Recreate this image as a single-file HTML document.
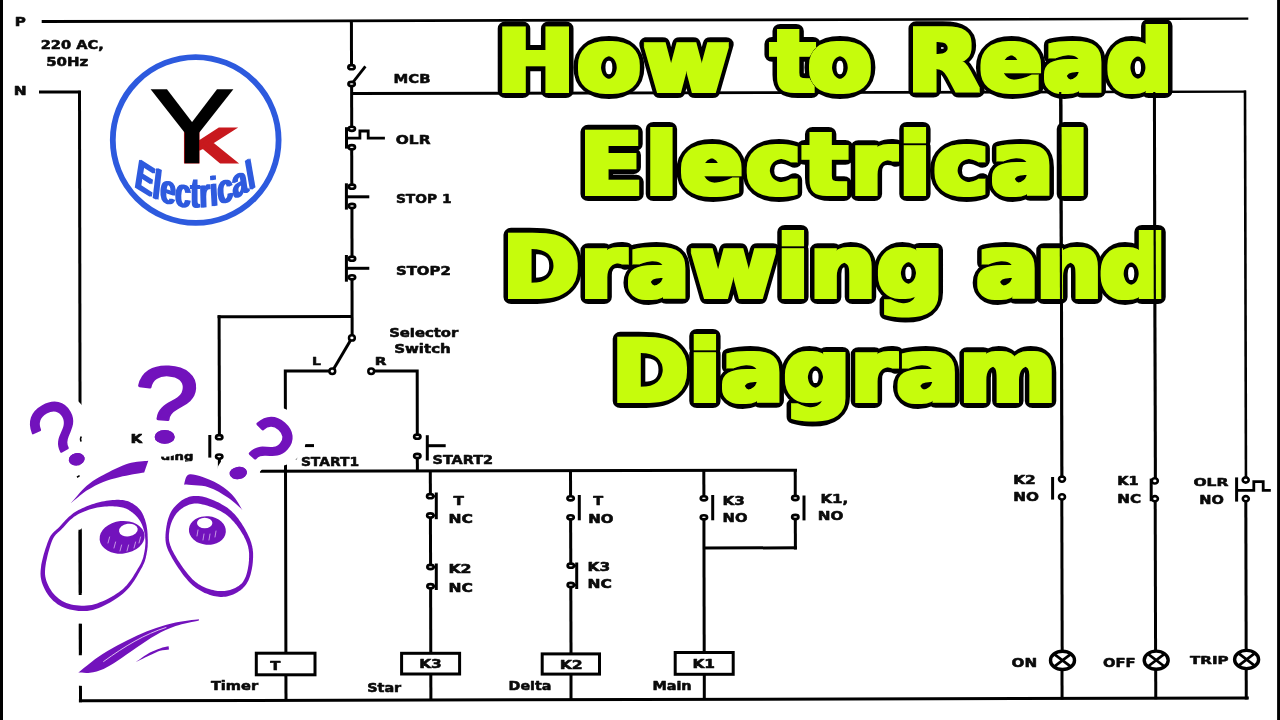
<!DOCTYPE html>
<html lang="en">
<head>
<meta charset="utf-8">
<title>How to Read Electrical Drawing and Diagram</title>
<style>
html,body{margin:0;padding:0;background:#fff;}
body{width:1280px;height:720px;overflow:hidden;}
svg{display:block;}
text{font-family:"DejaVu Sans","Liberation Sans",sans-serif;font-weight:bold;}
.labels{opacity:0.999;}
.lb{fill:#0a0a0a;stroke:#0a0a0a;stroke-width:0.55px;stroke-linejoin:round;}
.qm text{font-family:"Liberation Sans",sans-serif;font-weight:normal;font-size:100px;}
.title{font-size:86px;stroke-linejoin:round;}
.title text{fill:#c6fc0c;stroke:#000;stroke-width:14px;paint-order:stroke fill;}
</style>
</head>
<body>
<svg width="1280" height="720" viewBox="0 0 1280 720">
<rect x="0" y="0" width="1280" height="720" fill="#fff"/>
<rect x="0" y="0" width="3" height="720" fill="#000"/>
<rect x="1277.1" y="0" width="2.9" height="720" fill="#000"/>
<g stroke="#000" fill="none">
<path d="M41.7 20.1L1248.3 17.55V19.85L41.7 23.1Z" fill="#000" stroke="none"/>
<line x1="39" y1="92" x2="80.7" y2="92" stroke-width="3.0" stroke-linecap="butt"/>
<line x1="79.5" y1="90.8" x2="80.5" y2="702.2" stroke-width="3.0" stroke-linecap="butt"/>
<line x1="78.9" y1="700.8" x2="1248.8" y2="698" stroke-width="3.0" stroke-linecap="butt"/>
<line x1="351.4" y1="20" x2="351.51" y2="67.2" stroke-width="3.0" stroke-linecap="butt"/>
<line x1="351.7" y1="83.8" x2="365.4" y2="66.3" stroke-width="2.8" stroke-linecap="butt"/>
<line x1="351.6" y1="84" x2="351.71" y2="128.8" stroke-width="3.0" stroke-linecap="butt"/>
<path d="M351.6 92.1L1246 90.4V92.8L351.6 95.1Z" fill="#000" stroke="none"/>
<line x1="351.7" y1="147.2" x2="351.8" y2="186.7" stroke-width="3.0" stroke-linecap="butt"/>
<line x1="351.9" y1="206" x2="352.03" y2="258.7" stroke-width="3.0" stroke-linecap="butt"/>
<line x1="352.0" y1="277.3" x2="352.15" y2="337.7" stroke-width="3.0" stroke-linecap="butt"/>
<line x1="346.5" y1="127.2" x2="346.5" y2="148.6" stroke-width="3.0" stroke-linecap="butt"/>
<polyline points="346.5,138.2 359.9,138.2 359.9,131 368.2,131 368.2,138.2 384.9,138.2" stroke-width="2.8" fill="none" stroke-linejoin="miter"/>
<line x1="346.4" y1="183.3" x2="346.4" y2="209.6" stroke-width="3.0" stroke-linecap="butt"/>
<line x1="346.4" y1="196.8" x2="369.3" y2="196.8" stroke-width="3.0" stroke-linecap="butt"/>
<line x1="346.4" y1="255" x2="346.4" y2="281.7" stroke-width="3.0" stroke-linecap="butt"/>
<line x1="346.4" y1="268.3" x2="369.3" y2="268.3" stroke-width="3.0" stroke-linecap="butt"/>
<line x1="217.6" y1="316.8" x2="352" y2="316.4" stroke-width="3.0" stroke-linecap="butt"/>
<line x1="219.1" y1="315.2" x2="219.4" y2="437.2" stroke-width="3.0" stroke-linecap="butt"/>
<line x1="219.35" y1="456.6" x2="219.38" y2="471" stroke-width="3.0" stroke-linecap="butt"/>
<line x1="209.8" y1="435" x2="209.8" y2="457.6" stroke-width="3.0" stroke-linecap="butt"/>
<line x1="351.9" y1="337.9" x2="332.3" y2="371.2" stroke-width="3.0" stroke-linecap="butt"/>
<polyline points="332.3,371 285.3,371 285.9,652.3" stroke-width="3.0" fill="none" stroke-linejoin="miter"/>
<polyline points="371,371 417.2,371 417.3,436.7" stroke-width="3.0" fill="none" stroke-linejoin="miter"/>
<line x1="417.3" y1="456" x2="417.4" y2="471" stroke-width="3.0" stroke-linecap="butt"/>
<line x1="296.9" y1="457.2" x2="295.6" y2="459.4" stroke-width="1.6" stroke-linecap="butt"/>
<line x1="304.7" y1="445.6" x2="314" y2="445.6" stroke-width="3.0" stroke-linecap="butt"/>
<line x1="427.3" y1="435.2" x2="427.3" y2="460.5" stroke-width="3.0" stroke-linecap="butt"/>
<line x1="427.3" y1="445.7" x2="445.7" y2="445.7" stroke-width="3.0" stroke-linecap="butt"/>
<line x1="255" y1="471.3" x2="797" y2="470.2" stroke-width="3.0" stroke-linecap="butt"/>
<line x1="285.9" y1="675" x2="286" y2="700" stroke-width="3.0" stroke-linecap="butt"/>
<line x1="430.3" y1="471" x2="430.4" y2="496.2" stroke-width="3.0" stroke-linecap="butt"/>
<line x1="430.4" y1="515.5" x2="430.6" y2="567" stroke-width="3.0" stroke-linecap="butt"/>
<line x1="430.6" y1="586.2" x2="430.8" y2="652.4" stroke-width="3.0" stroke-linecap="butt"/>
<line x1="430.8" y1="675" x2="430.9" y2="699.5" stroke-width="3.0" stroke-linecap="butt"/>
<line x1="436.3" y1="492.5" x2="436.3" y2="519.2" stroke-width="3.0" stroke-linecap="butt"/>
<line x1="436.3" y1="563.5" x2="436.3" y2="590" stroke-width="3.0" stroke-linecap="butt"/>
<line x1="430.4" y1="496.2" x2="436.3" y2="496.2" stroke-width="2" stroke-linecap="butt"/>
<line x1="430.4" y1="515.5" x2="436.3" y2="515.5" stroke-width="2" stroke-linecap="butt"/>
<line x1="430.5" y1="567" x2="436.3" y2="567" stroke-width="2" stroke-linecap="butt"/>
<line x1="430.5" y1="586.2" x2="436.3" y2="586.2" stroke-width="2" stroke-linecap="butt"/>
<line x1="570.5" y1="471" x2="570.6" y2="498.3" stroke-width="3.0" stroke-linecap="butt"/>
<line x1="570.6" y1="517.3" x2="570.8" y2="565.7" stroke-width="3.0" stroke-linecap="butt"/>
<line x1="570.8" y1="585" x2="571" y2="653" stroke-width="3.0" stroke-linecap="butt"/>
<line x1="571" y1="675" x2="571" y2="699.2" stroke-width="3.0" stroke-linecap="butt"/>
<line x1="579.3" y1="495" x2="579.3" y2="520.3" stroke-width="3.0" stroke-linecap="butt"/>
<line x1="576.7" y1="562.5" x2="576.7" y2="589" stroke-width="3.0" stroke-linecap="butt"/>
<line x1="570.8" y1="565.7" x2="576.7" y2="565.7" stroke-width="2" stroke-linecap="butt"/>
<line x1="570.8" y1="585" x2="576.7" y2="585" stroke-width="2" stroke-linecap="butt"/>
<line x1="703.8" y1="470.7" x2="703.9" y2="498.3" stroke-width="3.0" stroke-linecap="butt"/>
<line x1="703.9" y1="517.3" x2="704.2" y2="652" stroke-width="3.0" stroke-linecap="butt"/>
<line x1="704.3" y1="675" x2="704.3" y2="699.6" stroke-width="3.0" stroke-linecap="butt"/>
<line x1="712.7" y1="495" x2="712.7" y2="520.3" stroke-width="3.0" stroke-linecap="butt"/>
<line x1="795.2" y1="469" x2="795.3" y2="498" stroke-width="3.0" stroke-linecap="butt"/>
<line x1="795.3" y1="517" x2="795.4" y2="549.5" stroke-width="3.0" stroke-linecap="butt"/>
<line x1="704" y1="548" x2="797" y2="547.8" stroke-width="3.0" stroke-linecap="butt"/>
<line x1="804" y1="495.5" x2="804" y2="520.4" stroke-width="3.0" stroke-linecap="butt"/>
<line x1="1061.0" y1="91.5" x2="1061.94" y2="479.1" stroke-width="3.0" stroke-linecap="butt"/>
<line x1="1061.8" y1="496.9" x2="1062.18" y2="651" stroke-width="3.0" stroke-linecap="butt"/>
<line x1="1061.99" y1="669" x2="1062.07" y2="699.5" stroke-width="3.0" stroke-linecap="butt"/>
<line x1="1154.4" y1="91.5" x2="1155.35" y2="480.9" stroke-width="3.0" stroke-linecap="butt"/>
<line x1="1155.2" y1="498.7" x2="1155.57" y2="651" stroke-width="3.0" stroke-linecap="butt"/>
<line x1="1155.69" y1="669" x2="1155.77" y2="699.3" stroke-width="3.0" stroke-linecap="butt"/>
<line x1="1245.0" y1="90.4" x2="1245.95" y2="480" stroke-width="2.6" stroke-linecap="butt"/>
<line x1="1245.8" y1="498.7" x2="1246.17" y2="650" stroke-width="3.0" stroke-linecap="butt"/>
<line x1="1246.19" y1="668" x2="1246.27" y2="699.4" stroke-width="3.0" stroke-linecap="butt"/>
<line x1="1052.6" y1="477" x2="1052.6" y2="499.6" stroke-width="3.0" stroke-linecap="butt"/>
<line x1="1151.2" y1="478.6" x2="1151.2" y2="501.2" stroke-width="3.0" stroke-linecap="butt"/>
<line x1="1151.2" y1="480.9" x2="1154.6" y2="480.9" stroke-width="2" stroke-linecap="butt"/>
<line x1="1151.2" y1="498.7" x2="1154.6" y2="498.7" stroke-width="2" stroke-linecap="butt"/>
<line x1="1236.6" y1="477.4" x2="1236.6" y2="501.6" stroke-width="3.0" stroke-linecap="butt"/>
<polyline points="1236.6,490.4 1253.8,490.4 1253.8,481.6 1263.2,481.6 1263.2,490.4 1270.8,490.4" stroke-width="2.8" fill="none" stroke-linejoin="miter"/>
<rect x="256.3" y="653.1999999999999" width="58.7" height="21.6" stroke-width="3.0" fill="#fff"/>
<rect x="401.6" y="653.3" width="58.0" height="20.7" stroke-width="3.0" fill="#fff"/>
<rect x="542.2" y="653.9" width="57.3" height="20.2" stroke-width="3.0" fill="#fff"/>
<rect x="675.2" y="652.5" width="58.0" height="21.8" stroke-width="3.0" fill="#fff"/>
<ellipse cx="1062.5" cy="660.4" rx="12" ry="9.1" stroke-width="3.4" fill="#fff"/>
<line x1="1054.2" y1="654.1" x2="1070.8" y2="666.6999999999999" stroke-width="2.7" stroke-linecap="butt"/>
<line x1="1054.2" y1="666.6999999999999" x2="1070.8" y2="654.1" stroke-width="2.7" stroke-linecap="butt"/>
<ellipse cx="1156.2" cy="660.2" rx="12" ry="9.1" stroke-width="3.4" fill="#fff"/>
<line x1="1147.9" y1="653.9000000000001" x2="1164.5" y2="666.5" stroke-width="2.7" stroke-linecap="butt"/>
<line x1="1147.9" y1="666.5" x2="1164.5" y2="653.9000000000001" stroke-width="2.7" stroke-linecap="butt"/>
<ellipse cx="1246.6" cy="659.5" rx="12" ry="9.1" stroke-width="3.4" fill="#fff"/>
<line x1="1238.3" y1="653.2" x2="1254.8999999999999" y2="665.8" stroke-width="2.7" stroke-linecap="butt"/>
<line x1="1238.3" y1="665.8" x2="1254.8999999999999" y2="653.2" stroke-width="2.7" stroke-linecap="butt"/>
<ellipse cx="351.5" cy="67.2" rx="3.2" ry="2.1" stroke-width="2.6" fill="#fff"/>
<ellipse cx="351.6" cy="84" rx="3.2" ry="2.1" stroke-width="2.6" fill="#fff"/>
<ellipse cx="351.8" cy="128.8" rx="3.2" ry="2.1" stroke-width="2.6" fill="#fff"/>
<ellipse cx="351.8" cy="147.2" rx="3.2" ry="2.1" stroke-width="2.6" fill="#fff"/>
<ellipse cx="352" cy="186.7" rx="3.2" ry="2.1" stroke-width="2.6" fill="#fff"/>
<ellipse cx="352" cy="206" rx="3.2" ry="2.1" stroke-width="2.6" fill="#fff"/>
<ellipse cx="352" cy="258.7" rx="3.2" ry="2.1" stroke-width="2.6" fill="#fff"/>
<ellipse cx="352" cy="277.3" rx="3.2" ry="2.1" stroke-width="2.6" fill="#fff"/>
<ellipse cx="219.2" cy="437.2" rx="3.2" ry="2.1" stroke-width="2.6" fill="#fff"/>
<ellipse cx="219.2" cy="456.6" rx="3.2" ry="2.1" stroke-width="2.6" fill="#fff"/>
<ellipse cx="417.3" cy="436.7" rx="3.2" ry="2.1" stroke-width="2.6" fill="#fff"/>
<ellipse cx="417.3" cy="456" rx="3.2" ry="2.1" stroke-width="2.6" fill="#fff"/>
<ellipse cx="430.2" cy="496.2" rx="3.2" ry="2.1" stroke-width="2.6" fill="#fff"/>
<ellipse cx="430.3" cy="515.5" rx="3.2" ry="2.1" stroke-width="2.6" fill="#fff"/>
<ellipse cx="430.5" cy="567" rx="3.2" ry="2.1" stroke-width="2.6" fill="#fff"/>
<ellipse cx="430.5" cy="586.2" rx="3.2" ry="2.1" stroke-width="2.6" fill="#fff"/>
<ellipse cx="570.6" cy="498.3" rx="3.2" ry="2.1" stroke-width="2.6" fill="#fff"/>
<ellipse cx="570.6" cy="517.3" rx="3.2" ry="2.1" stroke-width="2.6" fill="#fff"/>
<ellipse cx="570.8" cy="565.7" rx="3.2" ry="2.1" stroke-width="2.6" fill="#fff"/>
<ellipse cx="570.8" cy="585" rx="3.2" ry="2.1" stroke-width="2.6" fill="#fff"/>
<ellipse cx="703.9" cy="498.3" rx="3.2" ry="2.1" stroke-width="2.6" fill="#fff"/>
<ellipse cx="703.9" cy="517.3" rx="3.2" ry="2.1" stroke-width="2.6" fill="#fff"/>
<ellipse cx="795.3" cy="498" rx="3.2" ry="2.1" stroke-width="2.6" fill="#fff"/>
<ellipse cx="795.3" cy="517" rx="3.2" ry="2.1" stroke-width="2.6" fill="#fff"/>
<ellipse cx="351.9" cy="337.9" rx="2.9" ry="2.7" stroke-width="2.5" fill="#fff"/>
<ellipse cx="332.3" cy="371.2" rx="2.9" ry="2.7" stroke-width="2.5" fill="#fff"/>
<ellipse cx="371.2" cy="371.2" rx="2.9" ry="2.7" stroke-width="2.5" fill="#fff"/>
<ellipse cx="1062" cy="479.1" rx="3.0" ry="2.6" stroke-width="2.6" fill="#fff"/>
<ellipse cx="1062" cy="496.9" rx="3.0" ry="2.6" stroke-width="2.6" fill="#fff"/>
<ellipse cx="1154.8" cy="480.9" rx="3.0" ry="2.6" stroke-width="2.6" fill="#fff"/>
<ellipse cx="1154.9" cy="498.7" rx="3.0" ry="2.6" stroke-width="2.6" fill="#fff"/>
<ellipse cx="1245.7" cy="480" rx="3.0" ry="2.6" stroke-width="2.6" fill="#fff"/>
<ellipse cx="1245.8" cy="498.7" rx="3.0" ry="2.6" stroke-width="2.6" fill="#fff"/>
</g>
<g class="labels">
<text class="lb" x="14.7" y="25.8" font-size="11.39" textLength="11.1" lengthAdjust="spacingAndGlyphs">P</text>
<text class="lb" x="13.7" y="94.5" font-size="11.39" textLength="12.9" lengthAdjust="spacingAndGlyphs">N</text>
<text class="lb" x="40.7" y="48.8" font-size="12.07" textLength="63.1" lengthAdjust="spacingAndGlyphs">220 AC,</text>
<text class="lb" x="46.2" y="66.2" font-size="11.93" textLength="42.1" lengthAdjust="spacingAndGlyphs">50Hz</text>
<text class="lb" x="393.6" y="82.5" font-size="13.03" textLength="36.9" lengthAdjust="spacingAndGlyphs">MCB</text>
<text class="lb" x="395.8" y="143.5" font-size="11.66" textLength="34.7" lengthAdjust="spacingAndGlyphs">OLR</text>
<text class="lb" x="395.9" y="202.7" font-size="12.89" textLength="55.6" lengthAdjust="spacingAndGlyphs">STOP 1</text>
<text class="lb" x="395.9" y="275.3" font-size="11.8" textLength="54.9" lengthAdjust="spacingAndGlyphs">STOP2</text>
<text class="lb" x="389.2" y="336.5" font-size="11.66" textLength="69.1" lengthAdjust="spacingAndGlyphs">Selector</text>
<text class="lb" x="394.2" y="353" font-size="11.93" textLength="56.6" lengthAdjust="spacingAndGlyphs">Switch</text>
<text class="lb" x="311.9" y="365.2" font-size="11.25" textLength="8.9" lengthAdjust="spacingAndGlyphs">L</text>
<text class="lb" x="374.7" y="365.3" font-size="11.25" textLength="11.7" lengthAdjust="spacingAndGlyphs">R</text>
<text class="lb" x="130.5" y="443" font-size="11.8" textLength="12.2" lengthAdjust="spacingAndGlyphs">K</text>
<text class="lb" x="136.2" y="460" font-size="10.29" textLength="57.2" lengthAdjust="spacingAndGlyphs">Holding</text>
<text class="lb" x="300.9" y="465.7" font-size="12.35" textLength="58.2" lengthAdjust="spacingAndGlyphs">START1</text>
<text class="lb" x="432.5" y="464.3" font-size="12.21" textLength="60.6" lengthAdjust="spacingAndGlyphs">START2</text>
<text class="lb" x="453.4" y="505.3" font-size="11.8" textLength="10.4" lengthAdjust="spacingAndGlyphs">T</text>
<text class="lb" x="448.4" y="523" font-size="11.66" textLength="24.4" lengthAdjust="spacingAndGlyphs">NC</text>
<text class="lb" x="448.4" y="573.3" font-size="11.39" textLength="23.2" lengthAdjust="spacingAndGlyphs">K2</text>
<text class="lb" x="448.4" y="591.5" font-size="12.07" textLength="24.4" lengthAdjust="spacingAndGlyphs">NC</text>
<text class="lb" x="593.2" y="505" font-size="11.39" textLength="9.9" lengthAdjust="spacingAndGlyphs">T</text>
<text class="lb" x="588.2" y="522.7" font-size="11.93" textLength="25.3" lengthAdjust="spacingAndGlyphs">NO</text>
<text class="lb" x="587.5" y="571" font-size="11.93" textLength="22.6" lengthAdjust="spacingAndGlyphs">K3</text>
<text class="lb" x="587.5" y="588.3" font-size="11.39" textLength="24.3" lengthAdjust="spacingAndGlyphs">NC</text>
<text class="lb" x="722.5" y="505" font-size="12.35" textLength="22.3" lengthAdjust="spacingAndGlyphs">K3</text>
<text class="lb" x="722.5" y="522.3" font-size="12.07" textLength="25.0" lengthAdjust="spacingAndGlyphs">NO</text>
<text class="lb" x="820.4" y="503" font-size="11.52" textLength="27.8" lengthAdjust="spacingAndGlyphs">K1,</text>
<text class="lb" x="817.7" y="520.3" font-size="12.07" textLength="25.6" lengthAdjust="spacingAndGlyphs">NO</text>
<text class="lb" x="1013.2" y="484.4" font-size="11.8" textLength="22.6" lengthAdjust="spacingAndGlyphs">K2</text>
<text class="lb" x="1013.2" y="501.3" font-size="11.93" textLength="25.8" lengthAdjust="spacingAndGlyphs">NO</text>
<text class="lb" x="1117.2" y="485.3" font-size="11.93" textLength="21.4" lengthAdjust="spacingAndGlyphs">K1</text>
<text class="lb" x="1117.2" y="503" font-size="11.8" textLength="23.9" lengthAdjust="spacingAndGlyphs">NC</text>
<text class="lb" x="1193.4" y="485.8" font-size="10.97" textLength="35.0" lengthAdjust="spacingAndGlyphs">OLR</text>
<text class="lb" x="1199.2" y="503.6" font-size="12.21" textLength="24.6" lengthAdjust="spacingAndGlyphs">NO</text>
<text class="lb" x="1011.6" y="666.7" font-size="12.21" textLength="25.6" lengthAdjust="spacingAndGlyphs">ON</text>
<text class="lb" x="1102.9" y="666.9" font-size="12.07" textLength="32.6" lengthAdjust="spacingAndGlyphs">OFF</text>
<text class="lb" x="1190.1" y="664.1" font-size="11.25" textLength="38.5" lengthAdjust="spacingAndGlyphs">TRIP</text>
<text class="lb" x="270.2" y="669.8" font-size="11.52" textLength="10.1" lengthAdjust="spacingAndGlyphs">T</text>
<text class="lb" x="419.2" y="668" font-size="12.35" textLength="22.6" lengthAdjust="spacingAndGlyphs">K3</text>
<text class="lb" x="559.7" y="669" font-size="12.35" textLength="23.1" lengthAdjust="spacingAndGlyphs">K2</text>
<text class="lb" x="692.4" y="667.8" font-size="12.07" textLength="22.6" lengthAdjust="spacingAndGlyphs">K1</text>
<text class="lb" x="210.9" y="690.1" font-size="11.93" textLength="47.2" lengthAdjust="spacingAndGlyphs">Timer</text>
<text class="lb" x="367.2" y="692" font-size="11.8" textLength="34.0" lengthAdjust="spacingAndGlyphs">Star</text>
<text class="lb" x="508.6" y="690" font-size="13.03" textLength="42.8" lengthAdjust="spacingAndGlyphs">Delta</text>
<text class="lb" x="652.4" y="690.1" font-size="11.66" textLength="39.2" lengthAdjust="spacingAndGlyphs">Main</text>
</g>
<g class="logo">
<circle cx="195.7" cy="140" r="82.9" fill="#fff" stroke="#2d5ade" stroke-width="5.8"/>
<text transform="translate(181.6 161.9) scale(1.555 1)" style="font-family:'Liberation Sans',sans-serif;font-weight:bold;font-size:47.34px" fill="#c8191e" stroke="#c8191e" stroke-width="3.2">K</text>
<text transform="translate(150.7 162.1) scale(1.182 1)" style="font-family:'Liberation Sans',sans-serif;font-weight:normal;font-size:104.6px" fill="#000" stroke="#000" stroke-width="2.6">Y</text>
<g transform="scale(0.5,1)">
<path id="earc" d="M268.0 185.8A347.43 347.43 0 0 0 512.4 185.8" fill="none"/>
<filter id="fat" x="-5%" y="-20%" width="110%" height="140%"><feMorphology operator="dilate" radius="2.0 0.4"/></filter>
<text style="font-family:'Liberation Sans',sans-serif;font-weight:bold;font-size:42px" fill="#2d5ade" filter="url(#fat)"><textPath href="#earc" textLength="249.7" lengthAdjust="spacingAndGlyphs">Electrical</textPath></text>
</g>
</g>

<g class="face">
<g fill="#fff" stroke="#fff" stroke-width="26" stroke-linejoin="round" stroke-linecap="round">
<path d="M70.8 503.3C73.5 500.4 81.3 490.5 86.7 485.8C92.1 481.1 96.4 478.7 103.3 475.0C110.2 471.3 120.8 466.0 128.3 463.6C135.8 461.2 145.0 461.3 148.3 460.8L144.2 472.5C140.2 473.2 126.8 475.3 120.0 476.9C113.2 478.5 108.8 479.6 103.3 481.9C97.8 484.2 92.1 487.0 86.7 490.6C81.3 494.2 73.5 501.2 70.8 503.3Z"/>
<path d="M184.0 484.6C185.0 482.9 184.9 474.8 189.9 474.3C194.9 473.8 207.2 478.4 214.2 481.7C221.2 485.0 227.0 489.6 231.7 494.3C236.4 499.0 240.6 507.3 242.4 509.9L242.4 509.9C240.0 507.8 233.5 501.4 227.8 497.6C222.1 493.8 215.6 489.4 208.3 487.2C201.0 485.0 188.1 485.0 184.0 484.6Z"/>
<path d="M78.3 672.6C81.5 670.0 91.3 661.7 97.8 657.2C104.3 652.7 110.7 649.2 117.2 645.6C123.7 642.0 130.2 638.7 136.7 635.8C143.2 632.9 149.6 630.3 156.1 628.1C162.6 625.9 168.5 624.1 175.6 622.6C182.7 621.1 195.0 619.8 198.9 619.3L198.9 620.5C195.0 621.4 182.7 623.7 175.6 626.1C168.5 628.5 162.6 631.3 156.1 634.9C149.6 638.5 143.2 643.1 136.7 647.5C130.2 651.9 122.7 657.5 117.2 661.1C111.7 664.7 108.1 667.0 103.6 668.9C99.1 670.8 94.2 672.2 90.0 672.8C85.8 673.4 80.2 672.6 78.3 672.6Z"/>
<path d="M135.7 662.1C138.1 660.5 145.9 654.9 150.0 652.6C154.1 650.3 156.9 649.5 160.0 648.4C163.1 647.3 167.2 646.6 168.6 646.3L169.0 649.4C167.5 649.6 163.0 649.9 160.0 650.8C157.0 651.7 155.1 652.9 151.0 654.8C146.9 656.7 138.2 660.9 135.7 662.1Z"/>
<path d="M121.8 503.6L124.7 504.2L127.4 505.1L129.7 506.2L131.9 507.5L133.8 509.0L135.7 510.5L137.4 512.1L138.9 514.0L140.2 515.9L141.4 518.0L142.5 520.1L143.4 522.3L144.2 524.6L144.9 527.0L145.4 529.4L145.9 532.0L146.2 534.5L146.4 537.0L146.5 539.5L146.6 542.0L146.5 544.6L146.3 547.1L146.0 549.6L145.6 552.2L145.1 554.7L144.6 557.0L144.0 559.3L143.1 561.8L141.9 564.5L140.2 567.6L138.1 571.2L135.6 575.4L132.8 579.8L129.7 584.2L126.1 588.3L122.1 592.0L117.5 595.4L112.3 598.7L106.6 601.8L100.8 604.5L95.1 606.6L89.6 607.9L84.2 608.4L78.7 608.3L73.2 607.5L68.0 606.2L63.1 604.4L58.9 602.0L55.1 599.0L51.7 595.4L48.6 591.2L46.1 586.6L44.2 581.7L43.0 576.7L42.8 571.2L43.5 564.9L44.8 558.4L46.4 552.0L48.2 546.3L49.9 541.5L51.5 537.9L53.1 535.3L54.9 533.2L56.9 531.4L58.9 529.6L61.0 527.5L63.2 525.1L65.4 522.6L67.8 520.2L70.3 517.8L73.0 515.5L76.0 513.5L79.3 511.7L82.9 510.0L86.8 508.4L90.7 507.0L94.7 505.8L98.6 504.9L102.5 504.2L106.6 503.6L110.7 503.3L114.7 503.2L118.5 503.3Z" fill="none" stroke-width="31"/>
<path d="M196.7 499.7L199.9 500.0L203.4 500.7L207.1 501.7L210.9 503.0L214.7 504.6L218.5 506.3L222.0 508.2L225.3 510.3L228.2 512.4L231.0 514.8L233.6 517.4L236.1 520.3L238.4 523.3L240.5 526.3L242.4 529.3L244.2 532.3L245.7 535.1L247.0 537.8L248.2 540.4L249.1 543.0L249.9 545.5L250.4 548.1L250.8 550.7L251.1 553.3L251.1 556.1L251.0 559.0L250.8 562.1L250.4 565.4L249.9 568.8L249.1 572.2L248.2 575.5L247.0 578.5L245.7 581.3L244.1 583.7L242.2 585.8L240.1 587.7L237.6 589.3L235.0 590.8L232.3 592.0L229.4 593.0L226.4 593.6L223.5 594.0L220.5 594.0L217.4 593.7L214.1 593.1L210.7 592.3L207.3 591.2L203.9 589.8L200.6 588.1L197.3 586.0L194.2 583.7L191.1 580.9L188.0 577.4L184.8 573.6L181.8 569.5L178.8 565.2L176.1 561.0L173.8 557.0L171.7 553.3L170.2 550.2L169.0 547.3L168.1 544.6L167.6 542.1L167.3 539.7L167.2 537.4L167.2 535.1L167.4 532.7L167.7 530.3L168.1 527.7L168.6 525.1L169.4 522.4L170.2 519.8L171.3 517.2L172.5 514.7L173.8 512.4L175.4 510.3L177.1 508.5L179.0 506.7L181.1 505.1L183.3 503.5L185.7 502.2L188.3 501.1L191.0 500.3L193.8 499.8Z" stroke-width="26"/>
<path d="M33.3 433.7C32.6 432.2 29.8 427.9 29.4 425.0C28.9 422.1 29.4 418.9 30.6 416.1C31.8 413.3 34.2 410.2 36.7 408.3C39.2 406.4 42.7 405.5 45.6 404.8C48.5 404.1 51.3 404.0 54.4 404.4C57.5 404.8 61.4 405.6 64.4 407.2C67.4 408.8 70.4 411.5 72.2 413.9C74.0 416.3 75.0 418.9 75.0 421.7C75.0 424.5 73.5 427.8 72.2 430.6C70.9 433.4 67.9 436.1 67.2 438.3C66.5 440.5 67.2 442.4 67.8 443.9C68.4 445.4 70.1 446.6 70.6 447.2L63.9 451.9C63.1 450.9 60.0 448.2 58.9 446.1C57.8 444.0 57.0 441.8 57.2 439.4C57.4 437.0 58.8 434.3 60.0 431.7C61.2 429.1 63.8 426.3 64.4 423.9C65.1 421.5 65.0 419.0 63.9 417.2C62.8 415.4 60.1 413.6 57.8 412.8C55.5 412.0 52.6 411.7 50.0 412.2C47.4 412.7 44.2 414.0 42.2 415.6C40.2 417.2 38.5 419.4 38.3 421.7C38.1 424.0 40.6 428.1 41.1 429.4Z"/>
<path d="M140.4 390.4C140.6 388.4 140.5 382.0 141.8 378.6C143.1 375.2 145.4 372.3 148.1 370.3C150.8 368.3 154.3 367.6 157.8 366.8C161.3 366.1 165.0 365.6 168.9 365.8C172.8 366.0 177.7 366.8 181.4 368.2C185.1 369.6 188.6 371.6 191.1 374.4C193.6 377.2 195.9 381.4 196.4 384.9C196.9 388.4 195.7 392.3 193.9 395.3C192.1 398.3 188.8 400.5 185.6 402.9C182.3 405.3 177.2 407.7 174.4 409.9C171.6 412.1 169.9 413.8 168.9 416.1C167.9 418.4 168.3 422.5 168.2 423.8L157.1 423.8C157.2 422.2 156.8 417.6 157.8 414.7C158.8 411.8 160.5 409.2 163.3 406.4C166.1 403.6 171.3 400.7 174.4 398.1C177.5 395.6 180.6 393.4 182.1 391.1C183.6 388.8 183.8 386.4 183.5 384.2C183.2 382.0 182.2 379.3 180.0 377.9C177.8 376.5 173.5 375.7 170.3 375.6C167.1 375.5 163.3 376.0 160.6 377.2C157.9 378.4 155.7 380.6 154.3 382.8C152.9 385.0 152.5 389.1 152.2 390.4Z"/>
<path d="M247.2 430.8C248.1 429.8 250.6 426.7 252.8 425.0C255.0 423.3 257.8 421.6 260.6 420.6C263.4 419.6 266.3 418.9 269.4 418.9C272.5 418.9 276.4 419.6 279.4 420.6C282.4 421.6 285.1 423.1 287.2 425.0C289.3 426.9 291.2 429.5 292.2 431.7C293.2 433.9 293.6 435.9 293.3 438.3C293.0 440.7 292.2 443.9 290.6 446.1C289.0 448.3 286.7 450.3 283.9 451.7C281.1 453.1 277.4 453.8 273.9 454.4C270.4 455.0 265.9 455.0 262.8 455.6C259.7 456.2 257.1 457.0 255.0 458.3C252.9 459.6 250.8 462.5 250.0 463.3L241.1 460.0C241.8 459.0 243.6 455.7 245.6 453.9C247.6 452.1 249.9 450.4 252.8 449.4C255.7 448.4 259.5 448.2 262.8 447.8C266.1 447.4 269.8 447.4 272.8 446.7C275.8 445.9 278.8 444.7 280.6 443.3C282.5 441.9 283.5 440.1 283.9 438.3C284.3 436.6 283.9 434.5 282.8 432.8C281.7 431.1 279.4 429.3 277.2 428.3C275.0 427.3 272.0 426.7 269.4 426.7C266.8 426.7 264.1 427.1 261.7 428.3C259.3 429.5 256.1 433.1 255.0 434.1Z"/>
<ellipse cx="76.7" cy="459.2" rx="8" ry="6.1" transform="rotate(-10 76.7 459.2)"/>
<ellipse cx="164.7" cy="436.9" rx="10" ry="6.9" transform="rotate(0 164.7 436.9)"/>
<ellipse cx="238.3" cy="473" rx="8.7" ry="6.1" transform="rotate(-8 238.3 473)"/>
<ellipse cx="122.1" cy="537.3" rx="22.6" ry="16.3" transform="rotate(-6 122.1 537.3)"/>
</g>
<g stroke="#000" stroke-width="3" fill="none">
<line x1="80" y1="529.7" x2="80.2" y2="595"/>
<line x1="80.3" y1="623.8" x2="80.4" y2="655.3"/>
<path d="M81.4 436.5Q79.6 439 81.2 441.6" stroke-width="1.4"/>
<path d="M77 477.2L79.6 475.6" stroke-width="1.6"/>
</g>
<g fill="#7212bc" stroke="none">
<path d="M122.3 500.0L124.1 500.3L125.7 500.7L127.3 501.1L128.8 501.6L130.2 502.2L131.5 502.9L132.8 503.6L134.0 504.4L135.1 505.2L136.2 506.0L137.2 506.8L138.1 507.7L139.1 508.7L140.0 509.7L140.8 510.8L141.6 512.0L142.2 513.1L142.8 514.3L143.4 515.5L143.9 516.7L144.3 517.9L144.8 519.1L145.2 520.3L145.5 521.4L145.9 522.7L146.2 523.9L146.5 525.2L146.7 526.5L146.9 527.8L147.1 529.1L147.3 530.4L147.4 531.7L147.5 533.0L147.6 534.3L147.6 535.6L147.7 536.9L147.7 538.2L147.8 539.5L147.8 540.7L147.8 542.0L147.8 543.3L147.7 544.6L147.7 545.9L147.6 547.2L147.4 548.5L147.3 549.8L147.1 551.1L146.8 552.4L146.6 553.7L146.4 554.9L146.1 556.1L145.9 557.3L145.6 558.5L145.2 559.7L144.9 561.0L144.4 562.3L143.8 563.7L143.1 565.1L142.4 566.7L141.5 568.3L140.5 570.1L139.4 572.0L138.2 574.0L137.0 576.2L135.6 578.4L134.2 580.7L132.6 582.9L131.0 585.2L129.2 587.4L127.3 589.5L125.3 591.5L123.2 593.4L121.0 595.2L118.6 597.0L116.0 598.8L113.3 600.5L110.5 602.2L107.6 603.8L104.7 605.3L101.7 606.7L98.8 608.0L95.8 609.0L92.9 609.9L90.0 610.5L87.2 610.9L84.3 611.1L81.4 611.1L78.5 610.9L75.6 610.6L72.7 610.1L69.9 609.5L67.2 608.7L64.5 607.8L62.0 606.7L59.7 605.5L57.5 604.2L55.4 602.6L53.4 600.9L51.5 599.0L49.7 597.0L48.0 594.8L46.5 592.5L45.1 590.1L43.9 587.6L42.8 585.0L41.9 582.4L41.2 579.7L40.7 577.0L40.5 574.1L40.6 571.1L40.9 567.9L41.3 564.6L42.0 561.3L42.8 557.9L43.6 554.7L44.6 551.5L45.5 548.5L46.5 545.7L47.4 543.1L48.2 540.9L49.0 538.9L49.9 537.1L50.8 535.6L51.8 534.2L52.8 533.1L53.8 532.0L54.8 531.1L55.8 530.2L56.8 529.3L57.8 528.4L58.8 527.5L59.8 526.4L60.9 525.2L62.0 524.0L63.1 522.8L64.3 521.6L65.4 520.3L66.7 519.0L67.9 517.8L69.2 516.6L70.6 515.4L72.0 514.2L73.5 513.1L75.1 512.0L76.8 511.1L78.5 510.1L80.3 509.2L82.2 508.2L84.1 507.4L86.1 506.6L88.1 505.8L90.1 505.0L92.1 504.3L94.1 503.7L96.1 503.1L98.1 502.6L100.1 502.1L102.1 501.6L104.2 501.2L106.3 500.8L108.5 500.5L110.6 500.2L112.7 500.0L114.7 499.9L116.7 499.8L118.7 499.8L120.6 499.9ZM121.3 507.2L122.5 507.4L123.7 507.8L124.9 508.2L125.9 508.6L126.9 509.1L127.9 509.6L128.8 510.1L129.7 510.7L130.6 511.3L131.5 512.0L132.4 512.6L133.3 513.3L134.0 513.9L134.8 514.6L135.5 515.2L136.2 516.0L136.9 516.7L137.6 517.5L138.3 518.4L138.9 519.3L139.6 520.2L140.2 521.2L140.7 522.1L141.3 523.2L141.8 524.2L142.2 525.2L142.6 526.3L143.0 527.4L143.4 528.6L143.7 529.8L144.1 531.0L144.3 532.2L144.6 533.4L144.8 534.6L145.0 535.9L145.1 537.1L145.2 538.3L145.3 539.5L145.4 540.8L145.4 542.0L145.4 543.3L145.3 544.5L145.2 545.7L145.1 547.0L145.0 548.2L144.8 549.5L144.6 550.7L144.4 552.0L144.1 553.2L143.9 554.4L143.6 555.6L143.4 556.7L143.1 557.8L142.7 558.9L142.3 560.1L141.8 561.3L141.3 562.5L140.6 563.9L139.9 565.3L138.9 566.9L137.9 568.6L136.8 570.5L135.6 572.5L134.3 574.6L133.0 576.7L131.5 578.9L130.0 581.0L128.4 583.1L126.7 585.2L124.9 587.1L123.0 588.9L121.0 590.6L118.8 592.2L116.4 593.8L113.9 595.4L111.2 597.0L108.5 598.5L105.6 599.9L102.8 601.2L99.9 602.3L97.1 603.4L94.4 604.2L91.7 604.9L89.2 605.3L86.7 605.6L84.1 605.8L81.5 605.8L78.9 605.6L76.3 605.3L73.7 604.9L71.2 604.4L68.8 603.7L66.4 602.9L64.2 602.0L62.2 601.0L60.3 599.8L58.6 598.6L56.9 597.1L55.2 595.5L53.6 593.8L52.1 591.9L50.7 589.8L49.4 587.7L48.3 585.6L47.3 583.3L46.4 581.0L45.8 578.7L45.3 576.4L45.0 574.0L45.0 571.3L45.2 568.3L45.6 565.3L46.1 562.1L46.8 558.9L47.5 555.7L48.3 552.6L49.2 549.6L50.0 546.8L50.8 544.3L51.6 542.1L52.3 540.3L53.0 538.8L53.7 537.4L54.5 536.3L55.3 535.3L56.1 534.3L57.0 533.5L57.9 532.6L58.9 531.7L60.0 530.8L61.1 529.7L62.2 528.6L63.3 527.4L64.4 526.2L65.5 524.9L66.6 523.7L67.7 522.5L68.9 521.3L70.1 520.1L71.4 519.0L72.7 517.9L74.0 516.8L75.4 515.9L76.9 515.0L78.5 514.1L80.1 513.3L81.9 512.4L83.7 511.7L85.6 510.9L87.5 510.3L89.4 509.6L91.4 509.0L93.3 508.5L95.3 508.0L97.2 507.6L99.1 507.2L101.0 507.0L102.9 506.7L104.9 506.5L106.9 506.4L108.9 506.3L110.9 506.3L112.9 506.3L114.7 506.4L116.5 506.5L118.3 506.7L119.8 506.9Z" fill-rule="evenodd"/>
<path d="M196.8 495.9L198.6 496.0L200.4 496.2L202.3 496.6L204.2 497.0L206.2 497.6L208.2 498.2L210.2 498.9L212.2 499.7L214.1 500.5L216.1 501.4L218.1 502.3L220.0 503.3L221.9 504.4L223.7 505.4L225.4 506.5L227.1 507.6L228.6 508.8L230.1 510.0L231.6 511.3L233.0 512.7L234.4 514.1L235.7 515.5L236.9 517.0L238.2 518.6L239.3 520.2L240.4 521.7L241.5 523.3L242.5 524.9L243.5 526.5L244.4 528.1L245.3 529.6L246.1 531.2L246.9 532.6L247.6 534.1L248.3 535.5L249.0 536.9L249.6 538.2L250.1 539.6L250.6 541.0L251.1 542.3L251.5 543.7L251.8 545.0L252.2 546.3L252.4 547.7L252.7 549.1L252.8 550.4L253.0 551.8L253.1 553.2L253.1 554.7L253.1 556.1L253.1 557.6L253.0 559.1L252.9 560.7L252.8 562.3L252.6 564.0L252.4 565.7L252.1 567.4L251.8 569.2L251.4 570.9L251.0 572.7L250.6 574.4L250.1 576.1L249.5 577.7L248.9 579.3L248.2 580.9L247.4 582.3L246.6 583.7L245.7 585.0L244.7 586.2L243.7 587.3L242.6 588.4L241.4 589.4L240.2 590.4L238.9 591.3L237.5 592.2L236.1 593.0L234.7 593.8L233.2 594.5L231.7 595.1L230.1 595.6L228.5 596.1L226.9 596.4L225.3 596.7L223.6 596.8L222.0 596.9L220.4 596.9L218.7 596.7L217.0 596.5L215.3 596.2L213.5 595.9L211.8 595.4L210.0 594.9L208.2 594.3L206.4 593.6L204.6 592.9L202.9 592.0L201.1 591.1L199.4 590.1L197.7 589.0L196.0 587.9L194.4 586.7L192.8 585.4L191.2 584.0L189.6 582.4L188.0 580.7L186.4 578.8L184.8 576.9L183.2 574.9L181.6 572.8L180.1 570.6L178.6 568.5L177.1 566.3L175.8 564.2L174.4 562.1L173.2 560.0L172.0 558.0L171.0 556.1L170.0 554.3L169.2 552.6L168.4 551.0L167.8 549.4L167.2 547.9L166.7 546.5L166.3 545.1L166.0 543.7L165.8 542.4L165.6 541.1L165.5 539.9L165.5 538.6L165.4 537.4L165.5 536.2L165.5 535.0L165.6 533.8L165.7 532.6L165.8 531.3L166.0 530.1L166.1 528.8L166.3 527.4L166.5 526.1L166.8 524.7L167.0 523.3L167.4 521.8L167.7 520.4L168.1 519.0L168.6 517.6L169.1 516.2L169.6 514.8L170.2 513.5L170.8 512.2L171.5 510.9L172.3 509.7L173.2 508.5L174.0 507.4L175.0 506.4L175.9 505.4L176.9 504.4L178.0 503.4L179.1 502.4L180.3 501.5L181.5 500.6L182.8 499.8L184.1 499.0L185.5 498.3L187.0 497.7L188.5 497.1L190.1 496.6L191.7 496.3L193.4 496.0L195.1 495.9ZM196.6 503.5L197.9 503.6L199.3 503.8L200.8 504.1L202.5 504.4L204.2 504.8L206.0 505.3L207.8 505.8L209.6 506.4L211.5 507.1L213.3 507.8L215.2 508.6L217.0 509.4L218.7 510.2L220.4 511.1L222.0 512.0L223.6 512.9L225.0 513.8L226.3 514.8L227.6 515.8L229.0 516.9L230.2 518.1L231.5 519.4L232.7 520.7L234.0 522.0L235.1 523.4L236.3 524.8L237.4 526.2L238.4 527.7L239.4 529.1L240.4 530.6L241.3 532.0L242.2 533.4L243.0 534.8L243.8 536.1L244.4 537.4L245.1 538.7L245.7 539.9L246.2 541.2L246.7 542.4L247.1 543.6L247.5 544.8L247.9 546.0L248.2 547.2L248.4 548.5L248.7 549.7L248.8 550.9L249.0 552.2L249.1 553.4L249.1 554.7L249.1 556.1L249.1 557.4L249.0 558.9L249.0 560.4L248.8 561.9L248.7 563.5L248.5 565.1L248.2 566.8L247.9 568.4L247.6 570.1L247.2 571.7L246.8 573.3L246.3 574.9L245.8 576.4L245.2 577.8L244.6 579.1L243.9 580.3L243.2 581.4L242.5 582.4L241.7 583.4L240.7 584.2L239.7 585.1L238.7 585.9L237.6 586.6L236.4 587.3L235.2 588.0L233.9 588.6L232.6 589.1L231.3 589.6L230.0 590.0L228.7 590.3L227.3 590.6L226.0 590.8L224.6 591.0L223.3 591.1L222.0 591.1L220.6 591.1L219.2 591.0L217.7 590.9L216.2 590.7L214.7 590.4L213.1 590.1L211.5 589.7L209.9 589.3L208.2 588.8L206.6 588.2L204.9 587.5L203.3 586.8L201.7 586.0L200.1 585.1L198.6 584.2L197.1 583.1L195.6 582.0L194.2 580.8L192.7 579.4L191.1 577.8L189.6 576.1L188.0 574.2L186.5 572.3L184.9 570.3L183.4 568.3L182.0 566.2L180.5 564.1L179.2 562.0L177.8 559.9L176.6 557.9L175.5 556.0L174.4 554.2L173.5 552.4L172.6 550.8L171.9 549.4L171.3 548.0L170.8 546.6L170.3 545.4L169.9 544.1L169.6 542.9L169.3 541.8L169.1 540.7L169.0 539.6L168.9 538.5L168.9 537.4L168.9 536.3L168.9 535.2L169.0 534.1L169.1 532.9L169.3 531.7L169.4 530.5L169.6 529.3L169.9 528.1L170.2 526.8L170.5 525.6L170.9 524.3L171.3 523.0L171.8 521.8L172.3 520.5L172.9 519.3L173.5 518.2L174.1 517.0L174.7 515.9L175.4 514.9L176.1 513.9L176.8 513.0L177.6 512.2L178.4 511.4L179.2 510.6L180.1 509.9L181.0 509.1L182.0 508.4L183.0 507.7L184.0 507.1L185.1 506.5L186.2 505.9L187.3 505.4L188.4 504.9L189.5 504.5L190.7 504.2L191.8 503.9L193.0 503.7L194.2 503.6L195.4 503.5Z" fill-rule="evenodd"/>
<path d="M70.8 503.3C73.5 500.4 81.3 490.5 86.7 485.8C92.1 481.1 96.4 478.7 103.3 475.0C110.2 471.3 120.8 466.0 128.3 463.6C135.8 461.2 145.0 461.3 148.3 460.8L144.2 472.5C140.2 473.2 126.8 475.3 120.0 476.9C113.2 478.5 108.8 479.6 103.3 481.9C97.8 484.2 92.1 487.0 86.7 490.6C81.3 494.2 73.5 501.2 70.8 503.3Z"/>
<path d="M184.0 484.6C185.0 482.9 184.9 474.8 189.9 474.3C194.9 473.8 207.2 478.4 214.2 481.7C221.2 485.0 227.0 489.6 231.7 494.3C236.4 499.0 240.6 507.3 242.4 509.9L242.4 509.9C240.0 507.8 233.5 501.4 227.8 497.6C222.1 493.8 215.6 489.4 208.3 487.2C201.0 485.0 188.1 485.0 184.0 484.6Z"/>
<path d="M78.3 672.6C81.5 670.0 91.3 661.7 97.8 657.2C104.3 652.7 110.7 649.2 117.2 645.6C123.7 642.0 130.2 638.7 136.7 635.8C143.2 632.9 149.6 630.3 156.1 628.1C162.6 625.9 168.5 624.1 175.6 622.6C182.7 621.1 195.0 619.8 198.9 619.3L198.9 620.5C195.0 621.4 182.7 623.7 175.6 626.1C168.5 628.5 162.6 631.3 156.1 634.9C149.6 638.5 143.2 643.1 136.7 647.5C130.2 651.9 122.7 657.5 117.2 661.1C111.7 664.7 108.1 667.0 103.6 668.9C99.1 670.8 94.2 672.2 90.0 672.8C85.8 673.4 80.2 672.6 78.3 672.6Z"/>
<path d="M135.7 662.1C138.1 660.5 145.9 654.9 150.0 652.6C154.1 650.3 156.9 649.5 160.0 648.4C163.1 647.3 167.2 646.6 168.6 646.3L169.0 649.4C167.5 649.6 163.0 649.9 160.0 650.8C157.0 651.7 155.1 652.9 151.0 654.8C146.9 656.7 138.2 660.9 135.7 662.1Z"/>
<ellipse cx="76.7" cy="459.2" rx="8" ry="6.1" transform="rotate(-10 76.7 459.2)"/>
<ellipse cx="164.7" cy="436.9" rx="10" ry="6.9" transform="rotate(0 164.7 436.9)"/>
<ellipse cx="238.3" cy="473" rx="8.7" ry="6.1" transform="rotate(-8 238.3 473)"/>
<ellipse cx="122.1" cy="537.3" rx="22.6" ry="16.3" transform="rotate(-6 122.1 537.3)"/>
<ellipse cx="207.4" cy="530.5" rx="18.5" ry="14.3" transform="rotate(5 207.4 530.5)"/>
</g>
<clipPath id="qc"><rect x="-10" y="-85" width="80" height="71.5"/></clipPath>
<g class="qm" fill="#7212bc" stroke="#7212bc" stroke-linejoin="round">
<text transform="translate(52.68 476.52) rotate(-29.14) scale(0.8904 0.9508)" x="0" y="0" stroke-width="2.17" clip-path="url(#qc)">?</text>
<text transform="translate(132.05 436.33) rotate(3.32) scale(1.1488 1.0207)" x="0" y="0" stroke-width="2.77" clip-path="url(#qc)">?</text>
<text transform="translate(226.83 453.88) rotate(41.58) scale(0.7929 0.8685)" x="0" y="0" stroke-width="3.61" clip-path="url(#qc)">?</text>
</g>
<g fill="#7212bc" stroke="none">
<ellipse cx="76.7" cy="459.2" rx="8" ry="6.1" transform="rotate(-10 76.7 459.2)"/>
<ellipse cx="164.7" cy="436.9" rx="10" ry="6.9" transform="rotate(0 164.7 436.9)"/>
<ellipse cx="238.3" cy="473" rx="8.7" ry="6.1" transform="rotate(-8 238.3 473)"/>
</g>
<g fill="#fff">
<ellipse cx="128.4" cy="530.1" rx="9.4" ry="6.3" transform="rotate(-8 128.4 530.1)"/>
<ellipse cx="204.7" cy="523" rx="7.7" ry="5.3"/>
</g>
<g stroke="#fff" fill="none" stroke-linecap="round">
<path d="M103.6 661.5C125 646 145 634 166 627.5" stroke-width="0.9" stroke="#e9d5f5"/>
<line x1="108" y1="543" x2="109.6" y2="537" stroke-width="0.8" stroke="#d9b8ee"/>
<line x1="114" y1="548" x2="115.6" y2="542" stroke-width="0.8" stroke="#d9b8ee"/>
<line x1="120" y1="551" x2="121.6" y2="545" stroke-width="0.8" stroke="#d9b8ee"/>
<line x1="127" y1="551" x2="128.6" y2="545" stroke-width="0.8" stroke="#d9b8ee"/>
<line x1="134" y1="548" x2="135.6" y2="542" stroke-width="0.8" stroke="#d9b8ee"/>
<line x1="139" y1="543" x2="140.6" y2="537" stroke-width="0.8" stroke="#d9b8ee"/>
<line x1="197" y1="536" x2="198" y2="530" stroke-width="0.8" stroke="#d9b8ee"/>
<line x1="203" y1="540" x2="204" y2="534" stroke-width="0.8" stroke="#d9b8ee"/>
<line x1="209" y1="540" x2="210" y2="534" stroke-width="0.8" stroke="#d9b8ee"/>
<line x1="215" y1="537" x2="216" y2="531" stroke-width="0.8" stroke="#d9b8ee"/>
</g>
</g>

<filter id="tf" filterUnits="userSpaceOnUse" x="400" y="0" width="760" height="450" color-interpolation-filters="sRGB"><feColorMatrix in="SourceGraphic" type="matrix" values="0 0 0 0 0.776  0 0 0 0 0.988  0 0 0 0 0.047  0 1.03 0 0 0" result="g"/><feMorphology in="g" operator="dilate" radius="2.8 2.0" result="gd"/><feMerge><feMergeNode in="SourceGraphic"/><feMergeNode in="gd"/></feMerge></filter>
<g class="title" transform="scale(1.08,1)" filter="url(#tf)">
<text y="91.2"><tspan x="459.91" textLength="215.39" lengthAdjust="spacing">How</tspan> <tspan x="713.7" textLength="93.48" lengthAdjust="spacing">to</tspan> <tspan x="840.28" textLength="245.57" lengthAdjust="spacing">Read</tspan></text>
<text y="194.4"><tspan x="536.48" textLength="471.2" lengthAdjust="spacing">Electrical</tspan></text>
<text y="297.5"><tspan x="465.19" textLength="408.13" lengthAdjust="spacing">Drawing</tspan> <tspan x="903.89" textLength="175.72" lengthAdjust="spacing">and</tspan></text>
<text y="400.6"><tspan x="566.39" textLength="411.47" lengthAdjust="spacing">Diagram</tspan></text>
</g>
<g stroke="#000" fill="none"><line x1="1060.2" y1="92" x2="1061.8" y2="478" stroke-width="2.2"/><line x1="1154.3" y1="92" x2="1155.3" y2="479" stroke-width="2.2"/></g>

</svg>
</body>
</html>
